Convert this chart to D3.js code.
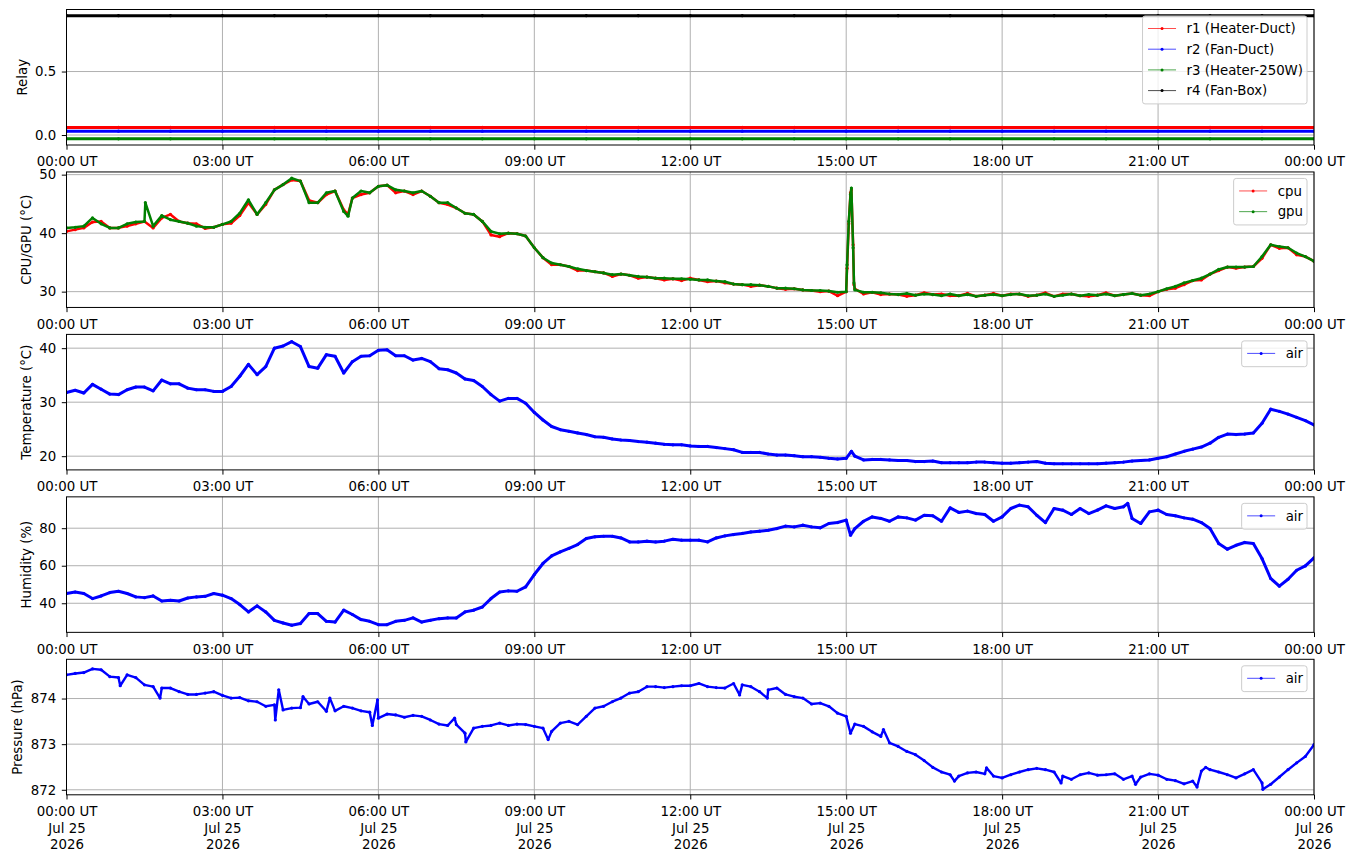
<!DOCTYPE html>
<html>
<head>
<meta charset="utf-8">
<script src="https://cdn.jsdelivr.net/npm/d3@7"></script>
<style>
  body { margin: 0; background: #fff; }
  svg { font-family: "DejaVu Sans", sans-serif; }
</style>
</head>
<body>
<svg></svg>
<script>
// ---------- DATA (10 min samples) ----------
const sampleMinutes = d3.range(0, 1441, 10);   // 00:00 .. 24:00
const relayMinutes = d3.range(0, 1441, 60);

// relays never switched that day (values carry the plotting offsets)
const r1 = [0.06,0.06,0.06,0.06,0.06,0.06,0.06,0.06,0.06,0.06,0.06,0.06,0.06,0.06,0.06,0.06,0.06,0.06,0.06,0.06,0.06,0.06,0.06,0.06,0.06];
const r2 = [0.03,0.03,0.03,0.03,0.03,0.03,0.03,0.03,0.03,0.03,0.03,0.03,0.03,0.03,0.03,0.03,0.03,0.03,0.03,0.03,0.03,0.03,0.03,0.03,0.03];
const r3 = [-0.03,-0.03,-0.03,-0.03,-0.03,-0.03,-0.03,-0.03,-0.03,-0.03,-0.03,-0.03,-0.03,-0.03,-0.03,-0.03,-0.03,-0.03,-0.03,-0.03,-0.03,-0.03,-0.03,-0.03,-0.03];
const r4 = [0.94,0.94,0.94,0.94,0.94,0.94,0.94,0.94,0.94,0.94,0.94,0.94,0.94,0.94,0.94,0.94,0.94,0.94,0.94,0.94,0.94,0.94,0.94,0.94,0.94];

const gpuTemp = [
  40.9, 41.0, 41.2, 42.6, 41.6, 40.9,
  40.9, 41.6, 41.9, 42.0, 41.2, 43.0,
  42.3, 42.0, 41.7, 41.2, 41.0, 41.0,
  41.5, 42.0, 43.4, 45.7, 43.2, 45.2,
  47.4, 48.3, 49.4, 48.9, 45.2, 45.2,
  46.9, 47.2, 43.7, 46.0, 47.2, 46.9,
  48.0, 48.2, 47.4, 47.2, 46.9, 47.2,
  46.3, 45.2, 45.2, 44.3, 43.4, 43.2,
  42.0, 40.3, 39.9, 40.0, 39.9, 39.5,
  37.5, 35.8, 34.9, 34.6, 34.3, 33.9,
  33.6, 33.4, 33.2, 32.9, 33.0, 32.8,
  32.6, 32.5, 32.3, 32.3, 32.2, 32.2,
  32.1, 32.0, 32.0, 31.8, 31.7, 31.3,
  31.2, 31.2, 31.1, 30.9, 30.6, 30.6,
  30.5, 30.3, 30.2, 30.2, 30.1, 29.9,
  30.0, 30.3, 29.9, 29.9, 29.8, 29.6,
  29.5, 29.7, 29.4, 29.6, 29.5, 29.3,
  29.6, 29.3, 29.5, 29.2, 29.4, 29.5,
  29.3, 29.5, 29.6, 29.3, 29.4, 29.6,
  29.2, 29.4, 29.6, 29.3, 29.5, 29.4,
  29.6, 29.3, 29.5, 29.7, 29.4, 29.6,
  30.0, 30.5, 30.9, 31.5, 31.9, 32.3,
  33.0, 33.8, 34.2, 34.2, 34.2, 34.3,
  36.0, 38.0, 37.7, 37.5, 36.6, 36.0,
  35.2
];
const cpuTemp = [
  40.3, 40.6, 40.9, 41.9, 42.0, 40.9,
  40.9, 41.2, 41.6, 42.0, 40.9, 42.6,
  43.2, 42.0, 41.7, 41.6, 40.8, 41.0,
  41.5, 41.7, 43.0, 45.2, 43.2, 44.9,
  47.4, 48.3, 49.1, 48.9, 45.6, 45.2,
  46.6, 47.2, 44.0, 46.0, 46.6, 46.9,
  48.0, 48.2, 46.9, 47.2, 46.6, 47.2,
  46.3, 45.2, 44.9, 44.3, 43.4, 43.2,
  42.0, 39.7, 39.4, 40.0, 39.9, 39.5,
  37.5, 35.8, 34.6, 34.6, 34.3, 33.6,
  33.6, 33.4, 33.2, 32.6, 33.0, 32.8,
  32.3, 32.5, 32.3, 32.0, 32.2, 31.9,
  32.3, 32.0, 31.7, 31.8, 31.5, 31.3,
  31.2, 30.9, 31.1, 30.9, 30.6, 30.4,
  30.5, 30.3, 30.2, 30.0, 30.1, 29.3,
  30.0, 30.5, 29.6, 29.9, 29.5, 29.6,
  29.5, 29.2, 29.4, 29.8, 29.5, 29.6,
  29.3, 29.3, 29.7, 29.2, 29.4, 29.7,
  29.3, 29.6, 29.6, 29.2, 29.4, 29.8,
  29.2, 29.6, 29.6, 29.3, 29.2, 29.4,
  29.8, 29.3, 29.5, 29.7, 29.4, 29.3,
  30.0, 30.4, 30.6, 31.2, 31.9, 32.0,
  33.0, 33.6, 34.2, 34.0, 34.2, 34.3,
  35.7, 38.0, 37.4, 37.5, 36.3, 36.0,
  35.2
];
// short excursions between the 10 min samples
const gpuExtra = [[91, 45.2], [325, 42.9], [901, 34.6], [903, 42.0], [905, 46.6], [906, 47.7], [908, 37.5], [909, 31.5]];
const cpuExtra = [[325, 43.2], [901, 34.0], [903, 41.6], [905, 46.9], [906, 47.4], [908, 38.0], [909, 31.2]];

const airTemp = [
  31.8, 32.2, 31.7, 33.3, 32.4, 31.5,
  31.4, 32.3, 32.8, 32.8, 32.1, 34.1,
  33.4, 33.4, 32.6, 32.3, 32.3, 32.0,
  32.0, 32.9, 34.8, 37.0, 35.1, 36.6,
  40.0, 40.4, 41.2, 40.3, 36.6, 36.3,
  38.8, 38.5, 35.4, 37.5, 38.5, 38.6,
  39.6, 39.7, 38.6, 38.6, 37.8, 38.1,
  37.5, 36.2, 36.0, 35.4, 34.3, 34.0,
  32.9, 31.4, 30.2, 30.7, 30.7, 29.8,
  28.1, 26.7, 25.5, 24.9, 24.6, 24.3,
  24.0, 23.6, 23.5, 23.2, 23.0, 22.9,
  22.7, 22.6, 22.4, 22.2, 22.1, 22.1,
  21.9, 21.8, 21.8, 21.6, 21.4, 21.2,
  20.7, 20.7, 20.7, 20.4, 20.2, 20.2,
  20.1, 19.9, 19.9, 19.8, 19.6, 19.5,
  19.6, 20.0, 19.3, 19.4, 19.4, 19.3,
  19.2, 19.2, 19.0, 19.0, 19.1, 18.8,
  18.8, 18.8, 18.8, 18.9, 18.9, 18.8,
  18.7, 18.7, 18.8, 18.9, 19.0, 18.7,
  18.6, 18.6, 18.6, 18.6, 18.6, 18.6,
  18.7, 18.8, 18.9, 19.1, 19.2, 19.3,
  19.6, 19.9, 20.4, 20.9, 21.3, 21.7,
  22.4, 23.5, 24.1, 24.0, 24.1, 24.3,
  26.1, 28.7, 28.3, 27.8, 27.2, 26.6,
  25.8
];
const airTempExtra = [[906, 20.9]];

const airHumidity = [
  45.2, 46.0, 45.2, 42.5, 43.9, 45.7,
  46.4, 45.2, 43.4, 43.0, 43.9, 41.2,
  41.6, 41.2, 42.8, 43.4, 43.7, 45.2,
  44.3, 42.5, 39.3, 35.4, 38.6, 35.4,
  30.9, 29.5, 28.3, 29.2, 34.5, 34.5,
  30.4, 30.0, 36.3, 34.0, 31.3, 30.4,
  28.6, 28.6, 30.4, 30.9, 32.2, 30.0,
  30.9, 31.8, 32.2, 32.2, 35.4, 36.3,
  38.0, 42.5, 46.0, 46.6, 46.4, 48.7,
  55.3, 61.2, 65.2, 67.4, 69.2, 71.3,
  74.5, 75.4, 75.7, 75.7, 74.8, 72.7,
  72.7, 73.1, 72.7, 73.1, 74.1, 73.6,
  73.6, 73.6, 72.7, 74.8, 75.9, 76.6,
  77.2, 78.0, 78.4, 78.9, 79.8, 81.1,
  80.7, 81.6, 80.7, 80.2, 82.5, 83.0,
  84.3, 79.8, 83.7, 86.0, 85.2, 83.7,
  86.0, 85.5, 84.3, 86.9, 86.6, 83.7,
  90.8, 88.4, 89.1, 87.8, 87.3, 83.7,
  86.0, 90.5, 92.3, 91.4, 86.9, 83.0,
  90.5, 89.6, 87.3, 90.5, 87.8, 89.6,
  91.9, 90.5, 91.4, 85.2, 82.5, 88.7,
  89.6, 87.3, 86.6, 85.5, 84.8, 83.0,
  79.8, 71.8, 68.8, 70.9, 72.4, 71.8,
  63.8, 53.2, 49.1, 52.8, 57.6, 59.9,
  64.2
];
const airHumidityExtra = [[905, 76.3], [1225, 93.2]];

const airPressure = [
  874.52, 874.55, 874.57, 874.65, 874.63, 874.48,
  874.46, 874.52, 874.46, 874.30, 874.26, 874.23,
  874.23, 874.15, 874.09, 874.09, 874.12, 874.15,
  874.07, 874.01, 874.02, 873.95, 873.93, 873.83,
  873.86, 873.75, 873.79, 873.80, 873.88, 873.93,
  873.72, 873.73, 873.83, 873.79, 873.73, 873.70,
  873.57, 873.66, 873.64, 873.59, 873.63, 873.61,
  873.53, 873.44, 873.41, 873.43, 873.24, 873.35,
  873.39, 873.41, 873.46, 873.41, 873.44, 873.43,
  873.39, 873.35, 873.28, 873.46, 873.50, 873.43,
  873.61, 873.79, 873.83, 873.93, 874.01, 874.12,
  874.15, 874.26, 874.26, 874.24, 874.26, 874.28,
  874.28, 874.33, 874.26, 874.24, 874.23, 874.33,
  874.30, 874.26, 874.15, 874.19, 874.23, 874.09,
  874.04, 874.01, 873.88, 873.90, 873.83, 873.68,
  873.61, 873.44, 873.39, 873.27, 873.17, 873.03,
  872.95, 872.84, 872.77, 872.64, 872.49, 872.39,
  872.33, 872.30, 872.37, 872.39, 872.35, 872.30,
  872.26, 872.33, 872.39, 872.44, 872.47, 872.44,
  872.39, 872.30, 872.23, 872.33, 872.37, 872.32,
  872.33, 872.35, 872.23, 872.30, 872.28, 872.35,
  872.32, 872.23, 872.20, 872.13, 872.19, 872.41,
  872.44, 872.39, 872.33, 872.26, 872.35, 872.44,
  872.15, 872.12, 872.28, 872.44, 872.59, 872.73,
  872.99
];
// single noisy readings that stand out of the band
const airPressureExtra = [
  [62, 874.28], [108, 874.01], [241, 873.53], [245, 874.19], [273, 874.04], [304, 874.01],
  [353, 873.41], [359, 873.97], [448, 873.57], [461, 873.05], [556, 873.10],
  [777, 874.08], [809, 874.01], [905, 873.24], [943, 873.32], [1025, 872.19], [1062, 872.48],
  [1148, 872.15], [1234, 872.12], [1305, 872.06], [1315, 872.49], [1381, 872.01]
];

// ---------- LAYOUT ----------
const size = {w: 1355, h: 861};
const plot = {l: 66.5, r: 1314, top: 9.5, h: 135.5, step: 162.45};
const fontSize = 13.33;
const svg = d3.select('svg').attr('width', size.w).attr('height', size.h);

const dayStart = Date.UTC(2026, 6, 25);
const toDate = m => new Date(dayStart + m * 60000);
const x = d3.scaleUtc()
    .domain([toDate(0), toDate(1440)])
    .range([plot.l, plot.r]);
const xTicks = d3.utcHour.every(3).range(toDate(0), toDate(1441));
const fmtTime = d3.utcFormat('%H:%M UT');
const fmtDay = d3.utcFormat('%b %d');
const fmtYear = d3.utcFormat('%Y');

const panels = [
    {label: 'Relay', domain: [-0.0785, 0.9885], ticks: [0, 0.5], format: d3.format('.1f'), band: 3,
     series: [
        {name: 'r1 (Heater-Duct)', color: 'red', times: relayMinutes, values: r1},
        {name: 'r2 (Fan-Duct)', color: 'blue', times: relayMinutes, values: r2},
        {name: 'r3 (Heater-250W)', color: 'green', times: relayMinutes, values: r3},
        {name: 'r4 (Fan-Box)', color: 'black', times: relayMinutes, values: r4}
     ]},
    {label: 'CPU/GPU (°C)', domain: [27.3, 50.46], ticks: [30, 40, 50], format: d3.format('d'), band: 2.5,
     series: [
        {name: 'cpu', color: 'red', times: sampleMinutes, values: cpuTemp, extra: cpuExtra},
        {name: 'gpu', color: 'green', times: sampleMinutes, values: gpuTemp, extra: gpuExtra}
     ]},
    {label: 'Temperature (°C)', domain: [17.46, 42.55], ticks: [20, 30, 40], format: d3.format('d'), band: 3,
     series: [{name: 'air', color: 'blue', times: sampleMinutes, values: airTemp, extra: airTempExtra}]},
    {label: 'Humidity (%)', domain: [24.5, 96.7], ticks: [40, 60, 80], format: d3.format('d'), band: 3,
     series: [{name: 'air', color: 'blue', times: sampleMinutes, values: airHumidity, extra: airHumidityExtra}]},
    {label: 'Pressure (hPa)', domain: [871.89, 874.86], ticks: [872, 873, 874], format: d3.format('d'), band: 2.4,
     series: [{name: 'air', color: 'blue', times: sampleMinutes, values: airPressure, extra: airPressureExtra}]}
];

panels.forEach((p, i) => drawPanel(p, i, i === panels.length - 1));

function drawPanel(p, i, isLast) {
    const top = plot.top + i * plot.step;
    const bottom = top + plot.h;
    const y = d3.scaleLinear().domain(p.domain).range([bottom, top]);
    const g = svg.append('g').classed('panel', true);

    // grid under everything
    g.append('g').selectAll('line')
        .data(xTicks)
        .join('line')
        .attr('x1', d => x(d)).attr('x2', d => x(d))
        .attr('y1', top).attr('y2', bottom)
        .attr('stroke', '#b0b0b0').attr('stroke-width', 1);
    g.append('g').selectAll('line')
        .data(p.ticks)
        .join('line')
        .attr('x1', plot.l).attr('x2', plot.r)
        .attr('y1', d => y(d)).attr('y2', d => y(d))
        .attr('stroke', '#b0b0b0').attr('stroke-width', 1);

    // clip for data
    const clipId = 'clip' + i;
    g.append('clipPath').attr('id', clipId)
        .append('rect')
        .attr('x', plot.l).attr('y', top)
        .attr('width', plot.r - plot.l).attr('height', plot.h);
    const dataG = g.append('g').attr('clip-path', `url(#${clipId})`);

    const line = d3.line()
        .x(d => x(toDate(d[0])))
        .y(d => y(d[1]));

    p.series.forEach(s => {
        let pts = s.times.map((m, k) => [m, s.values[k]]);
        if (s.extra) pts = pts.concat(s.extra).sort((a, b) => a[0] - b[0]);

        // dense markers in the original merge into a band
        dataG.append('path')
            .datum(pts)
            .attr('d', line)
            .attr('fill', 'none')
            .attr('stroke', s.color)
            .attr('stroke-width', p.band)
            .attr('stroke-linejoin', 'round')
            .attr('stroke-linecap', 'round');
        dataG.append('g').selectAll('circle')
            .data(pts)
            .join('circle')
            .attr('cx', d => x(toDate(d[0])))
            .attr('cy', d => y(d[1]))
            .attr('r', 1.6)
            .attr('fill', s.color);
    });

    // frame
    g.append('rect')
        .attr('x', plot.l).attr('y', top)
        .attr('width', plot.r - plot.l).attr('height', plot.h)
        .attr('fill', 'none').attr('stroke', 'black').attr('stroke-width', 1);

    // y axis
    const yAxis = g.append('g')
        .attr('transform', `translate(${plot.l},0)`)
        .call(d3.axisLeft(y).tickValues(p.ticks).tickFormat(p.format).tickSize(4.7).tickPadding(5.5));
    yAxis.select('.domain').remove();
    yAxis.selectAll('text').attr('font-size', fontSize).attr('fill', 'black').attr('font-family', 'DejaVu Sans');

    // y label, placed left of the widest tick label
    let minLeft = plot.l;
    yAxis.selectAll('text').each(function () {
        const b = this.getBBox();
        minLeft = Math.min(minLeft, plot.l + b.x);
    });
    const lx = minLeft - 5.3 - 3.2;
    g.append('text')
        .attr('transform', `translate(${lx},${(top + bottom) / 2}) rotate(-90)`)
        .attr('text-anchor', 'middle')
        .attr('font-size', fontSize)
        .text(p.label);

    // x axis
    const xAxis = g.append('g')
        .attr('transform', `translate(0,${bottom})`)
        .call(d3.axisBottom(x).tickValues(xTicks).tickFormat(fmtTime).tickSize(4.7).tickPadding(7));
    xAxis.select('.domain').remove();
    xAxis.selectAll('text').attr('font-size', fontSize).attr('fill', 'black').attr('font-family', 'DejaVu Sans');
    if (isLast) {
        xAxis.selectAll('.tick text').each(function (d) {
            const t = d3.select(this).text('');
            [fmtTime(d), fmtDay(d), fmtYear(d)].forEach((s, k) => {
                t.append('tspan').attr('x', 0).attr('dy', k === 0 ? '0.71em' : '1.245em').text(s);
            });
        });
    }

    drawLegend(g, p.series, top);
}

function drawLegend(g, series, top) {
    const rowH = 20.7;
    const lg = g.append('g');
    const box = lg.append('rect')
        .attr('rx', 2.5).attr('ry', 2.5)
        .attr('fill', 'white').attr('fill-opacity', 0.8)
        .attr('stroke', '#cccccc').attr('stroke-width', 1);
    let maxW = 0;
    const rows = lg.selectAll('g.row')
        .data(series)
        .join('g')
        .classed('row', true)
        .attr('transform', (d, k) => `translate(0,${12.5 + k * rowH})`);
    rows.append('line')
        .attr('x1', 5.5).attr('x2', 33.5)
        .attr('stroke', d => d.color).attr('stroke-width', 0.7);
    rows.append('circle')
        .attr('cx', 19.5).attr('r', 1.5)
        .attr('fill', d => d.color);
    rows.append('text')
        .attr('x', 44)
        .attr('dy', '0.36em')
        .attr('font-size', fontSize)
        .text(d => d.name)
        .each(function () { maxW = Math.max(maxW, this.getComputedTextLength()); });
    const w = 44 + maxW + 4;
    const h = 25.8 + (series.length - 1) * rowH;
    box.attr('width', w).attr('height', h);
    lg.attr('transform', `translate(${plot.r - 7 - w},${top + 6.5})`);
}
</script>
</body>
</html>
